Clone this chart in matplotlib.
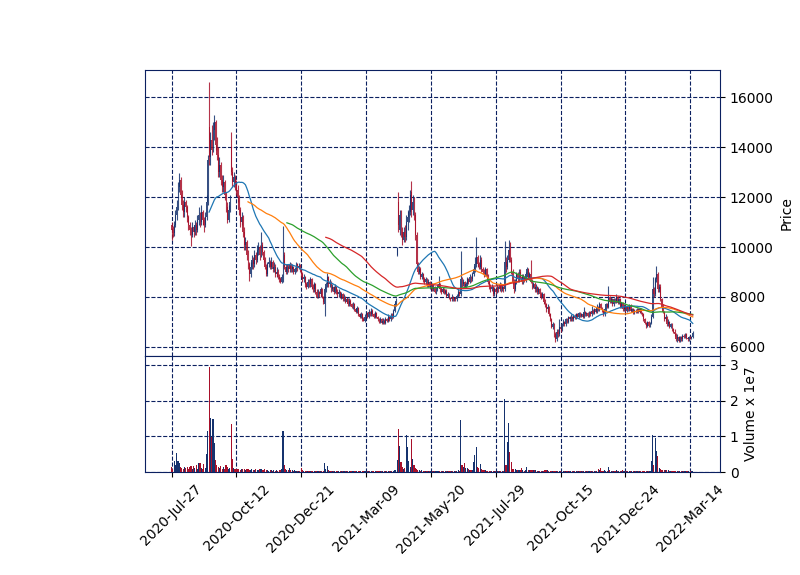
import numpy as np
import pandas as pd
import matplotlib
matplotlib.use("Agg")
import matplotlib.pyplot as plt

# tick labels, one every 50 trading days
tick_labels = ["2020-Jul-27", "2020-Oct-12", "2020-Dec-21", "2021-Mar-09", "2021-May-20",
               "2021-Jul-29", "2021-Oct-15", "2021-Dec-24", "2022-Mar-14"]
tick_step = 50
mav_windows = [30, 60, 90, 120]

opens = [
    10900, 10700, 10550, 10900, 11300, 11600, 12400, 12700, 12100, 11700,
    11400, 11800, 11600, 11200, 10900, 10700, 10500, 10800, 10600, 10900,
    10700, 11100, 11300, 11000, 11400, 11100, 10900, 11200, 11800, 14800,
    13600, 14300, 13900, 14700, 15000, 14100, 13700, 13000, 13300, 12700,
    12400, 12600, 12100, 11600, 11100, 11500, 14000, 13000, 12600, 12800,
    12500, 12300, 12000, 11500, 11000, 11200, 10600, 10100, 10200, 9700,
    9300, 8900, 9200, 9500, 9300, 9700, 9500, 9900, 10000, 9700,
    10100, 9800, 9500, 9200, 8900, 9300, 9400, 9200, 9400, 9100,
    9200, 8900, 9000, 8800, 8700, 8600, 8700, 9700, 9200, 9000,
    9200, 9100, 9300, 9100, 9200, 9000, 9100, 9300, 9150, 9250,
    9100, 8900, 8700, 8800, 8500, 8400, 8600, 8500, 8700, 8400,
    8300, 8500, 8200, 8000, 8200, 8100, 8300, 8000, 7700, 8300,
    8500, 8800, 8500, 8600, 8300, 8400, 8200, 8400, 8200, 8100,
    8200, 8000, 8100, 7900, 8000, 7800, 7900, 7700, 7850, 7700,
    7600, 7700, 7500, 7400, 7550, 7300, 7200, 7300, 7100, 7050,
    7200, 7350, 7200, 7400, 7300, 7450, 7300, 7200, 7350, 7200,
    7100, 7000, 7100, 6950, 7050, 6950, 7100, 7050, 7200, 7100,
    7250, 7200, 7450, 7700, 9700, 11800, 10700, 11300, 10600, 10300,
    10600, 10400, 11000, 11200, 11400, 12200, 11500, 11800, 11300, 10500,
    9300, 9000, 9100, 8800, 8900, 8700, 8600, 8700, 8500, 8600,
    8400, 8500, 8300, 8400, 8200, 8300, 8400, 8500, 8300, 8200,
    8300, 8150, 8250, 8050, 8100, 7950, 7900, 8000, 7900, 7950,
    7900, 8050, 8200, 8100, 8700, 8500, 8600, 8400, 8500, 8700,
    8600, 8800, 8700, 8900, 9100, 9300, 9600, 9300, 9200, 9500,
    9100, 9000, 8900, 9100, 8800, 8600, 8400, 8300, 8400, 8100,
    8300, 8200, 8400, 8300, 8500, 8300, 8400, 8300, 9400, 9200,
    9500, 9900, 9500, 9000, 8600, 8300, 8600, 8900, 8700, 9000,
    8800, 8600, 8800, 8700, 8900, 9100, 8800, 8900, 8600, 8400,
    8500, 8300, 8400, 8200, 8300, 8100, 8000, 8100, 7800, 7700,
    7500, 7600, 7300, 7100, 6800, 6900, 6500, 6300, 6600, 6500,
    6800, 6700, 6900, 7000, 6900, 7100, 7000, 7200, 7100, 7200,
    7100, 7250, 7150, 7300, 7200, 7350, 7250, 7300, 7200, 7400,
    7300, 7350, 7250, 7400, 7300, 7450, 7350, 7500, 7400, 7600,
    7500, 7700, 7550, 7450, 7300, 7500, 7700, 7600, 8000, 7800,
    7900, 7700, 7900, 7800, 8000, 7750, 7900, 7600, 7750, 7500,
    7650, 7450, 7600, 7500, 7650, 7450, 7500, 7350, 7450, 7400,
    7500, 7400, 7500, 7350, 7300, 7100, 6950, 6850, 7000, 6850,
    6950, 7200, 8300, 8100, 8700, 8900, 8300, 8400, 7900, 7600,
    7400, 7100, 7200, 6900, 7000, 6800, 6900, 6700, 6600, 6500,
    6300, 6400, 6250, 6400, 6300, 6450, 6400, 6500, 6350, 6300,
    6400, 6350, 6400,
]

highs = [
    11000, 10850, 11050, 11500, 11900, 12600, 12960, 12800, 12300, 11900,
    12000, 11900, 11700, 11300, 11000, 10800, 11000, 10900, 11100, 11000,
    11300, 11600, 11400, 11700, 11500, 11200, 11400, 12100, 13700, 16600,
    14600, 14900, 15000, 15300, 15100, 14400, 14000, 13600, 13400, 12900,
    12900, 12700, 12200, 11800, 11700, 12100, 14600, 13200, 13000, 12900,
    12700, 12500, 12100, 11600, 11400, 11300, 10800, 10400, 10300, 9900,
    9400, 9400, 9700, 9600, 9900, 9800, 10100, 10200, 10100, 10600,
    10200, 9900, 9600, 9300, 9400, 9600, 9500, 9600, 9500, 9400,
    9300, 9200, 9100, 8900, 8800, 8900, 10840, 9800, 9300, 9300,
    9300, 9400, 9350, 9300, 9250, 9200, 9400, 9350, 9350, 9300,
    9150, 9000, 8900, 8850, 8600, 8700, 8700, 8800, 8750, 8500,
    8600, 8550, 8300, 8300, 8250, 8400, 8350, 8050, 8400, 8600,
    8960, 8850, 8700, 8650, 8500, 8450, 8500, 8450, 8300, 8300,
    8250, 8200, 8150, 8100, 8050, 8000, 7950, 7950, 7900, 7750,
    7800, 7750, 7550, 7650, 7600, 7350, 7400, 7350, 7200, 7300,
    7450, 7400, 7500, 7450, 7550, 7500, 7350, 7450, 7400, 7250,
    7150, 7200, 7150, 7150, 7100, 7200, 7150, 7300, 7250, 7350,
    7350, 7500, 7800, 7950, 10000, 12200, 11500, 11500, 10800, 10800,
    10900, 11300, 11500, 11700, 12300, 12650, 12100, 12000, 11400, 10600,
    9400, 9250, 9200, 9000, 8950, 8800, 8800, 8750, 8700, 8650,
    8600, 8550, 8500, 8450, 8400, 8500, 8830, 8550, 8400, 8400,
    8350, 8300, 8300, 8200, 8150, 8000, 8100, 8050, 8000, 8000,
    8100, 8300, 8250, 9830, 8800, 8700, 8650, 8600, 8800, 8750,
    8900, 8850, 9000, 9250, 9600, 10400, 9700, 9400, 9700, 9600,
    9200, 9100, 9200, 9150, 8900, 8700, 8500, 8500, 8450, 8400,
    8400, 8500, 8450, 8600, 8550, 8500, 8450, 10230, 9600, 9700,
    10300, 10200, 9600, 9100, 8700, 8700, 9000, 9000, 9100, 9100,
    8900, 8900, 8850, 9000, 9200, 9150, 9000, 9500, 8700, 8600,
    8600, 8500, 8450, 8400, 8350, 8200, 8200, 8150, 7900, 7750,
    7700, 7650, 7350, 7150, 7000, 6950, 6600, 6700, 6700, 7100,
    6900, 6950, 7100, 7050, 7150, 7150, 7250, 7250, 7300, 7250,
    7300, 7300, 7350, 7350, 7400, 7400, 7350, 7350, 7600, 7450,
    7400, 7400, 7450, 7450, 7650, 7500, 7550, 7550, 7700, 7650,
    7800, 7750, 7600, 7500, 7550, 7750, 7750, 8450, 8050, 8000,
    7950, 7950, 7950, 8100, 8050, 7950, 7950, 7800, 7800, 7700,
    7700, 7650, 7650, 7700, 7700, 7550, 7550, 7500, 7500, 7550,
    7550, 7550, 7550, 7400, 7350, 7150, 7000, 7050, 7050, 7000,
    7300, 8800, 8400, 8800, 9250, 9000, 8500, 8500, 7950, 7700,
    7450, 7300, 7250, 7100, 7050, 6950, 6950, 6750, 6700, 6550,
    6500, 6450, 6450, 6450, 6500, 6500, 6550, 6550, 6400, 6450,
    6450, 6450, 6650,
]

lows = [
    10300, 10400, 10450, 10800, 11100, 11500, 12200, 12000, 11500, 11200,
    11200, 11400, 11000, 10700, 10500, 10030, 10400, 10400, 10500, 10500,
    10600, 10900, 10800, 10900, 10900, 10600, 10800, 11100, 11700, 13300,
    13300, 13700, 13800, 14300, 13900, 13500, 12800, 12800, 12500, 12200,
    12200, 11900, 11400, 10950, 11000, 11400, 12900, 12400, 12400, 12300,
    12100, 11800, 11300, 10800, 10900, 10400, 9900, 9900, 9500, 9100,
    8650, 8800, 9100, 9100, 9200, 9300, 9400, 9700, 9500, 9600,
    9700, 9400, 9100, 8830, 8850, 9200, 9100, 9100, 9000, 9000,
    8800, 8800, 8700, 8600, 8560, 8560, 8600, 9100, 8900, 8900,
    9000, 9000, 9000, 9000, 8900, 8900, 9000, 9050, 9100, 9000,
    8800, 8600, 8600, 8400, 8300, 8350, 8400, 8400, 8300, 8200,
    8200, 8100, 7960, 7950, 8000, 8000, 7950, 7700, 7230, 8200,
    8400, 8400, 8400, 8200, 8250, 8100, 8150, 8100, 8000, 8000,
    7950, 7900, 7850, 7850, 7750, 7750, 7650, 7650, 7650, 7550,
    7500, 7450, 7350, 7350, 7250, 7150, 7150, 7050, 7030, 7000,
    7150, 7150, 7150, 7250, 7250, 7250, 7150, 7150, 7150, 7050,
    6950, 6950, 6900, 6900, 6900, 6900, 7000, 7000, 7050, 7050,
    7100, 7150, 7400, 7650, 9650, 10600, 10500, 10400, 10100, 10200,
    10200, 10300, 10700, 11000, 11300, 11200, 11300, 11100, 10300, 9200,
    8900, 8900, 8700, 8700, 8600, 8500, 8500, 8400, 8400, 8300,
    8300, 8250, 8250, 8150, 8100, 8250, 8350, 8200, 8100, 8150,
    8100, 8100, 8000, 8000, 7900, 7830, 7850, 7850, 7850, 7850,
    7850, 8000, 8050, 8050, 8400, 8450, 8350, 8350, 8450, 8500,
    8550, 8600, 8650, 8850, 9000, 9200, 9200, 9100, 9100, 9000,
    8900, 8800, 8850, 8700, 8500, 8300, 8200, 8250, 8030, 8050,
    8100, 8150, 8200, 8250, 8200, 8250, 8200, 8250, 9000, 9100,
    9400, 9400, 8900, 8500, 8160, 8250, 8500, 8600, 8600, 8700,
    8500, 8500, 8600, 8600, 8800, 8700, 8700, 8550, 8300, 8350,
    8200, 8200, 8100, 8100, 8000, 7900, 7950, 7700, 7600, 7400,
    7400, 7250, 7050, 6750, 6700, 6400, 6190, 6250, 6400, 6450,
    6600, 6650, 6850, 6850, 6850, 6950, 6950, 7050, 7050, 7050,
    7050, 7100, 7100, 7150, 7150, 7200, 7200, 7150, 7150, 7250,
    7250, 7200, 7200, 7250, 7250, 7300, 7300, 7350, 7350, 7450,
    7450, 7500, 7400, 7230, 7250, 7450, 7550, 7550, 7750, 7750,
    7650, 7650, 7750, 7750, 7700, 7700, 7550, 7550, 7450, 7450,
    7400, 7400, 7450, 7450, 7400, 7400, 7300, 7300, 7350, 7350,
    7350, 7350, 7300, 7250, 7050, 6900, 6760, 6800, 6800, 6800,
    6900, 7150, 8000, 8050, 8600, 8200, 8200, 7850, 7500, 7350,
    7050, 7050, 6850, 6850, 6750, 6750, 6650, 6550, 6450, 6250,
    6200, 6200, 6200, 6250, 6250, 6350, 6350, 6300, 6250, 6250,
    6300, 6300, 6350,
]

closes = [
    10700, 10550, 10900, 11300, 11600, 12400, 12700, 12100, 11700, 11400,
    11800, 11600, 11200, 10900, 10700, 10500, 10800, 10600, 10900, 10700,
    11100, 11300, 11000, 11400, 11100, 10900, 11200, 11800, 13500, 13600,
    14300, 13900, 14700, 15000, 14100, 13700, 13000, 13300, 12700, 12400,
    12600, 12100, 11600, 11100, 11500, 11800, 13000, 12600, 12800, 12500,
    12300, 12000, 11500, 11000, 11200, 10600, 10100, 10200, 9700, 9300,
    8900, 9200, 9500, 9300, 9700, 9500, 9900, 10000, 9700, 10100,
    9800, 9500, 9200, 8900, 9300, 9400, 9200, 9400, 9100, 9200,
    8900, 9000, 8800, 8700, 8600, 8800, 9700, 9200, 9000, 9200,
    9100, 9300, 9100, 9200, 9000, 9100, 9300, 9150, 9250, 9100,
    8900, 8700, 8800, 8500, 8400, 8600, 8500, 8700, 8400, 8300,
    8500, 8200, 8000, 8200, 8100, 8300, 8000, 7800, 8300, 8500,
    8800, 8500, 8600, 8300, 8400, 8200, 8400, 8200, 8100, 8200,
    8000, 8100, 7900, 8000, 7800, 7900, 7700, 7850, 7700, 7600,
    7700, 7500, 7400, 7550, 7300, 7200, 7300, 7100, 7050, 7200,
    7350, 7200, 7400, 7300, 7450, 7300, 7200, 7350, 7200, 7100,
    7000, 7100, 6950, 7050, 6950, 7100, 7050, 7200, 7100, 7250,
    7200, 7450, 7700, 7850, 9950, 10900, 11300, 10600, 10300, 10600,
    10400, 11000, 11200, 11400, 12100, 11500, 11800, 11300, 10500, 9300,
    9000, 9100, 8800, 8900, 8700, 8600, 8700, 8500, 8600, 8400,
    8500, 8300, 8400, 8200, 8300, 8400, 8500, 8300, 8200, 8300,
    8150, 8250, 8050, 8100, 7950, 7900, 8000, 7900, 7950, 7900,
    8050, 8200, 8100, 8700, 8500, 8600, 8400, 8500, 8700, 8600,
    8800, 8700, 8900, 9100, 9300, 9600, 9300, 9200, 9500, 9100,
    9000, 8900, 9100, 8800, 8600, 8400, 8300, 8400, 8100, 8300,
    8200, 8400, 8300, 8500, 8300, 8400, 8300, 9400, 9200, 9500,
    9900, 9500, 9000, 8600, 8300, 8600, 8900, 8700, 9000, 8800,
    8600, 8800, 8700, 8900, 9100, 8800, 8900, 8600, 8400, 8500,
    8300, 8400, 8200, 8300, 8100, 8000, 8100, 7800, 7700, 7500,
    7600, 7300, 7100, 6800, 6900, 6500, 6300, 6600, 6500, 6800,
    6700, 6900, 7000, 6900, 7100, 7000, 7200, 7100, 7200, 7100,
    7250, 7150, 7300, 7200, 7350, 7250, 7300, 7200, 7400, 7300,
    7350, 7250, 7400, 7300, 7450, 7350, 7500, 7400, 7600, 7500,
    7700, 7550, 7450, 7300, 7500, 7700, 7600, 8000, 7800, 7900,
    7700, 7900, 7800, 8000, 7750, 7900, 7600, 7750, 7500, 7650,
    7450, 7600, 7500, 7650, 7450, 7500, 7350, 7450, 7400, 7500,
    7400, 7500, 7350, 7300, 7100, 6950, 6850, 7000, 6850, 6950,
    7200, 8300, 8100, 8700, 8900, 8300, 8400, 7900, 7600, 7400,
    7100, 7200, 6900, 7000, 6800, 6900, 6700, 6600, 6500, 6300,
    6400, 6250, 6400, 6300, 6450, 6400, 6500, 6350, 6300, 6400,
    6350, 6400, 6550,
]

# volume in units of 1e7 shares
volume_1e7 = [
    0.13, 0.10, 0.31, 0.20, 0.52, 0.30, 0.24, 0.15, 0.12, 0.10,
    0.15, 0.12, 0.14, 0.10, 0.13, 0.16, 0.10, 0.17, 0.12, 0.20,
    0.10, 0.24, 0.24, 0.12, 0.10, 0.22, 0.12, 0.50, 1.15, 2.95,
    1.50, 0.97, 1.48, 0.80, 0.34, 0.21, 0.15, 0.12, 0.18, 0.10,
    0.14, 0.10, 0.21, 0.15, 0.10, 0.12, 1.35, 0.36, 0.12, 0.10,
    0.10, 0.08, 0.09, 0.07, 0.08, 0.10, 0.08, 0.07, 0.09, 0.08,
    0.07, 0.06, 0.10, 0.07, 0.06, 0.08, 0.06, 0.05, 0.10, 0.08,
    0.06, 0.05, 0.09, 0.06, 0.05, 0.04, 0.05, 0.06, 0.04, 0.05,
    0.04, 0.05, 0.04, 0.05, 0.06, 0.08, 1.15, 0.19, 0.09, 0.06,
    0.05, 0.11, 0.06, 0.05, 0.04, 0.05, 0.04, 0.03, 0.04, 0.04,
    0.11, 0.05, 0.04, 0.03, 0.04, 0.03, 0.02, 0.03, 0.04, 0.03,
    0.02, 0.03, 0.04, 0.03, 0.02, 0.03, 0.02, 0.04, 0.24, 0.08,
    0.17, 0.06, 0.04, 0.03, 0.04, 0.03, 0.02, 0.03, 0.02, 0.03,
    0.03, 0.02, 0.03, 0.02, 0.03, 0.02, 0.03, 0.02, 0.02, 0.03,
    0.02, 0.03, 0.02, 0.02, 0.03, 0.02, 0.02, 0.03, 0.02, 0.02,
    0.02, 0.02, 0.03, 0.02, 0.02, 0.02, 0.03, 0.02, 0.02, 0.02,
    0.02, 0.03, 0.02, 0.02, 0.02, 0.02, 0.03, 0.02, 0.02, 0.03,
    0.03, 0.04, 0.05, 0.06, 0.34, 1.20, 0.74, 0.27, 0.15, 0.10,
    0.12, 1.04, 0.69, 0.30, 0.15, 0.92, 0.36, 0.20, 0.12, 0.10,
    0.06, 0.05, 0.04, 0.05, 0.04, 0.03, 0.04, 0.03, 0.03, 0.04,
    0.03, 0.03, 0.02, 0.03, 0.02, 0.03, 0.04, 0.02, 0.02, 0.03,
    0.02, 0.02, 0.03, 0.02, 0.02, 0.03, 0.02, 0.02, 0.02, 0.03,
    0.03, 0.05, 0.04, 1.46, 0.19, 0.15, 0.24, 0.12, 0.12, 0.10,
    0.06, 0.05, 0.06, 0.27, 0.48, 0.70, 0.13, 0.12, 0.22, 0.10,
    0.06, 0.05, 0.05, 0.04, 0.04, 0.03, 0.03, 0.03, 0.04, 0.03,
    0.02, 0.03, 0.02, 0.03, 0.02, 0.02, 0.03, 2.04, 0.19, 0.84,
    1.36, 0.56, 0.28, 0.10, 0.10, 0.08, 0.06, 0.05, 0.06, 0.05,
    0.11, 0.05, 0.04, 0.06, 0.13, 0.06, 0.05, 0.06, 0.06, 0.05,
    0.06, 0.05, 0.04, 0.04, 0.03, 0.04, 0.03, 0.03, 0.05, 0.06,
    0.05, 0.04, 0.03, 0.03, 0.02, 0.03, 0.03, 0.02, 0.02, 0.02,
    0.02, 0.02, 0.03, 0.02, 0.02, 0.02, 0.02, 0.02, 0.03, 0.02,
    0.02, 0.02, 0.02, 0.02, 0.02, 0.03, 0.02, 0.02, 0.03, 0.02,
    0.02, 0.02, 0.02, 0.03, 0.02, 0.02, 0.03, 0.02, 0.04, 0.09,
    0.05, 0.11, 0.04, 0.03, 0.07, 0.04, 0.03, 0.15, 0.05, 0.04,
    0.03, 0.03, 0.03, 0.05, 0.03, 0.02, 0.03, 0.03, 0.07, 0.02,
    0.02, 0.02, 0.02, 0.02, 0.02, 0.02, 0.02, 0.02, 0.02, 0.02,
    0.02, 0.02, 0.02, 0.02, 0.02, 0.02, 0.02, 0.03, 0.02, 0.02,
    0.31, 1.03, 0.20, 0.95, 0.59, 0.45, 0.12, 0.10, 0.07, 0.07,
    0.07, 0.06, 0.07, 0.05, 0.04, 0.03, 0.03, 0.02, 0.02, 0.02,
    0.02, 0.02, 0.02, 0.02, 0.02, 0.02, 0.02, 0.02, 0.02, 0.02,
    0.02, 0.02, 0.03,
]

UP = "#15326e"
DOWN = "#a8102a"
NAVY = "#0b2060"
MA_COLORS = ["#1f77b4", "#ff7f0e", "#2ca02c", "#d62728"]

df = pd.DataFrame({"o": opens, "h": highs, "l": lows, "c": closes, "v": volume_1e7})
x = np.arange(len(df))
up = (df.c >= df.o).values
colors = np.where(up, UP, DOWN)

fig = plt.figure(figsize=(8, 5.75), dpi=100)
ax = fig.add_axes([0.181, 0.381, 0.719, 0.497])
axv = fig.add_axes([0.181, 0.179, 0.719, 0.202], sharex=ax)

# candles: wick + body
top = np.maximum(df.h, np.maximum(df.o, df.c))
bot = np.minimum(df.l, np.minimum(df.o, df.c))
ax.vlines(x, bot, top, colors=colors, linewidth=0.8, alpha=0.85, zorder=3)
body_lo = np.minimum(df.o, df.c)
body_h = np.maximum(np.abs(df.c - df.o), 20)
ax.bar(x, body_h, bottom=body_lo, width=0.7, color=colors, linewidth=0, alpha=0.85, zorder=3)

for w, col in zip(mav_windows, MA_COLORS):
    ax.plot(x, df.c.rolling(w).mean(), color=col, linewidth=0.9, zorder=4)

axv.bar(x, df.v, width=0.85, color=colors, linewidth=0, zorder=3)

ticks = np.arange(len(tick_labels)) * tick_step
for a in (ax, axv):
    a.grid(True, linestyle="--", color=NAVY, linewidth=0.8)
    a.set_axisbelow(True)
    for s in a.spines.values():
        s.set_color(NAVY)
    a.yaxis.tick_right()
    a.yaxis.set_label_position("right")
    a.tick_params(axis="y", colors="black", labelsize=10)

ax.set_xlim(-20.6, 423)
ax.set_ylim(5640, 17080)
ax.set_yticks(range(6000, 16001, 2000))
ax.set_ylabel("Price", fontsize=10)
ax.tick_params(axis="x", labelbottom=False, length=0)

axv.set_ylim(0, 3.25)
axv.set_yticks([0, 1, 2, 3])
axv.set_ylabel("Volume x 1e7", fontsize=10)
axv.set_xticks(ticks)
axv.set_xticklabels(tick_labels, rotation=45, ha="center", fontsize=10)

fig.savefig("out.png", dpi=100)
